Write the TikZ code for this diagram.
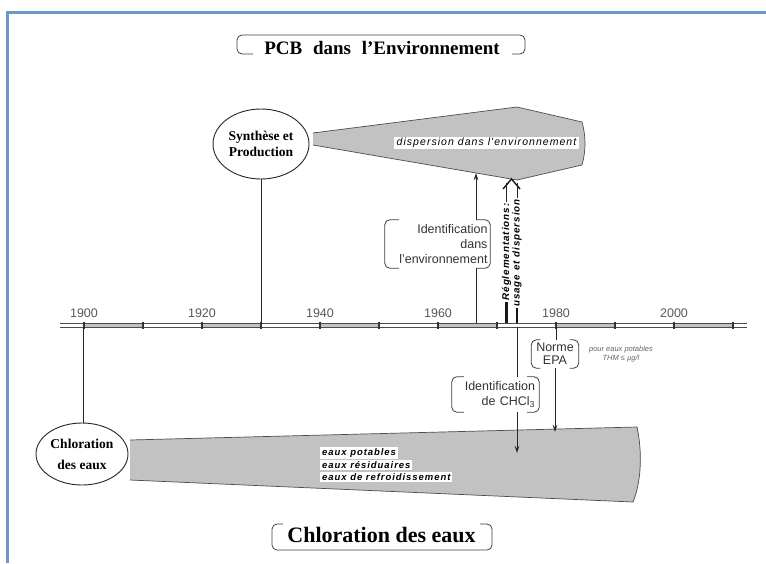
\documentclass[tikz,border=0pt]{standalone}
\usepackage{fontspec}
\setmainfont{Liberation Serif}
\setsansfont{Liberation Sans}
\newfontfamily\lsp[LetterSpace=10]{Liberation Sans}
\usetikzlibrary{shapes.geometric,arrows.meta,calc}
\definecolor{frameblue}{RGB}{106,150,200}
\definecolor{dotgray}{gray}{0.76}
\begin{document}
\begin{tikzpicture}[x=1pt,y=-1pt,
  oval/.style={ellipse,draw=black!85,line width=0.9pt,inner sep=0pt,align=center,font=\fontsize{13.5}{16}\selectfont\bfseries},
  lbl/.style={fill=white,inner ysep=0pt,font=\sffamily\fontsize{12.5}{15}\selectfont,text=black!80},
  brk/.style={draw=black!75,line width=0.8pt,rounded corners=5pt},
  yr/.style={font=\sffamily\fontsize{12.5}{14}\selectfont,text=black!65},
  arr/.style={draw=black!85,line width=0.8pt,-{Stealth[length=7pt,width=4.5pt]}},
  conn/.style={draw=black!85,line width=0.9pt},
  edge/.style={draw=black!70,line width=0.7pt},
  bar/.style={draw=black!90,line width=2.8pt},
  wtag/.style={fill=white,inner xsep=2pt,inner ysep=1.2pt,font=\lsp\itshape\bfseries\fontsize{9.5}{11}\selectfont},
  vtag/.style={fill=white,inner xsep=1pt,inner ysep=0.5pt,rotate=90,font=\lsp\itshape\bfseries\fontsize{9.8}{11}\selectfont},
]
\useasboundingbox (0,0) rectangle (766,563);
\fill[white] (0,0) rectangle (766,563);
% blue frame
\draw[frameblue,line width=3pt] (7.5,563) -- (7.5,12.5) -- (766,12.5);

% titles
\node[font=\bfseries\fontsize{19}{22}\selectfont] (ttop) at (382,48) {PCB\hspace{6pt} dans\hspace{6pt} l'Environnement};
\draw[brk] (253,54) -- (237,54) -- (237,35) -- (525,35) -- (525,54) -- (512,54);
\node[font=\bfseries\fontsize{22}{26}\selectfont] (tbot) at (381.5,535) {Chloration des eaux};
\draw[brk] (283,524) -- (272,524) -- (272,550) -- (492,550) -- (492,524) -- (480,524);

% timeline
\foreach \a in {84,202,320,438,556,674} \fill[dotgray] (\a,323) rectangle ({\a+59},327);
\draw[black!70,line width=0.8pt] (60,323) -- (747,323) (60,327) -- (747,327);
\foreach \t in {84,143,202,261,320,379,438,497,556,615,674,733}
  \draw[black!80,line width=1.3pt] (\t,321.5) -- (\t,328.5);
\foreach \y/\x in {1900/84,1920/202,1940/320,1960/438,1980/556,2000/674}
  \node[yr] (y\y) at (\x,313) {\y};
\coordinate (t1900) at (83,327);
\coordinate (t1930) at (261,323);
\coordinate (t1966) at (476,323);
\coordinate (e1966) at (476,173);
\coordinate (t1973) at (517,327);
\coordinate (b1973) at (517,453);
\coordinate (t1980) at (556,327);
\coordinate (b1980) at (555,432);

% upper blob
\fill[dotgray] (313,133) -- (517,107) -- (582,122) .. controls (586,136) and (586,151) .. (582,165) -- (517,180) -- (313,145) -- cycle;
\draw[edge] (313,133) -- (517,107) -- (582,122) .. controls (586,136) and (586,151) .. (582,165) -- (517,180) -- (313,145);
\node[fill=white,inner xsep=3pt,inner ysep=1.5pt,font=\lsp\itshape\fontsize{10.5}{12}\selectfont] (disp) at (486.5,143) {dispersion dans l'environnement};

% Synthese
\node[oval,minimum width=96pt,minimum height=70pt] (syn) at (261,144) {Synthèse et\\Production};
\draw[conn] (syn.south) -- (t1930);

% Identification dans l'environnement
\node[lbl,text width=100pt,align=right,minimum height=48pt,inner xsep=2.5pt] (idenv) at (437.5,244) {Identification\\dans\\l'environnement};
\draw[brk] ([xshift=14pt]idenv.north west) -- (idenv.north west) -- (idenv.south west) -- ([xshift=14pt]idenv.south west);
\draw[brk] ([xshift=-14pt]idenv.north east) -- (idenv.north east) -- (idenv.south east) -- ([xshift=-14pt]idenv.south east);
\draw[conn] (t1966) -- (t1966 |- idenv.south);
\draw[arr] (t1966 |- idenv.north) -- (e1966);

% Reglementations
\node[vtag] (reg1) at (506.5,252) {Réglementations:};
\node[vtag] (reg2) at (517,253) {usage et dispersion};
\coordinate (r1) at (506.5,323);
\coordinate (r2) at (517,323);
\draw[bar] (r1) -- (reg1.west);
\draw[bar] (r2) -- (reg2.west);
\draw[conn] (reg1.east) -- (506.5,183);
\draw[conn] (reg2.east) -- (517,183);
\draw[black!90,line width=1.4pt] (503,189) -- (511.5,179) -- (520,189);

% bottom blob
\fill[dotgray] (130,440) -- (637,427) .. controls (642,450) and (642,480) .. (633,502) -- (130,480) -- cycle;
\draw[edge] (130,440) -- (637,427) .. controls (642,450) and (642,480) .. (633,502) -- (130,480);
\node[wtag,anchor=west] (w1) at (320,453) {eaux potables};
\node[wtag,anchor=west] (w2) at (320,465) {eaux résiduaires};
\node[wtag,anchor=west] (w3) at (320,477) {eaux de refroidissement\hspace{8pt}};

% Chloration ellipse
\node[oval,minimum width=92pt,minimum height=62pt,font=\fontsize{13.5}{21}\selectfont\bfseries] (chl) at (82,454) {Chloration\\des eaux};
\draw[conn] (t1900) -- (t1900 |- chl.north);

% CHCl3
\node[lbl,text width=79pt,align=right,minimum height=35pt,inner xsep=4pt] (chc) at (495.5,394.5) {Identification\\de CHCl\textsubscript{3}};
\draw[brk] ([xshift=12pt]chc.north west) -- (chc.north west) -- (chc.south west) -- ([xshift=12pt]chc.south west);
\draw[brk] ([xshift=-12pt]chc.north east) -- (chc.north east) -- (chc.south east) -- ([xshift=-12pt]chc.south east);
\draw[conn] (t1973) -- (t1973 |- chc.north);
\draw[arr] (t1973 |- chc.south) -- (b1973);

% Norme EPA
\node[lbl,minimum width=47pt,minimum height=28pt,align=center,inner xsep=0pt,font=\sffamily\fontsize{12.5}{13}\selectfont] (epa) at (555,354) {Norme\\EPA};
\draw[brk] ([xshift=9pt]epa.north west) -- (epa.north west) -- (epa.south west) -- ([xshift=9pt]epa.south west);
\draw[brk] ([xshift=-9pt]epa.north east) -- (epa.north east) -- (epa.south east) -- ([xshift=-9pt]epa.south east);
\draw[conn] (t1980) -- (t1980 |- epa.north);
\draw[arr] (epa.south) -- (b1980);
\node[font=\sffamily\itshape\fontsize{7.5}{9}\selectfont,text=black!60,align=center] (note) at (621,354) {pour eaux potables\\THM ≤ µg/l};
\end{tikzpicture}
\end{document}
